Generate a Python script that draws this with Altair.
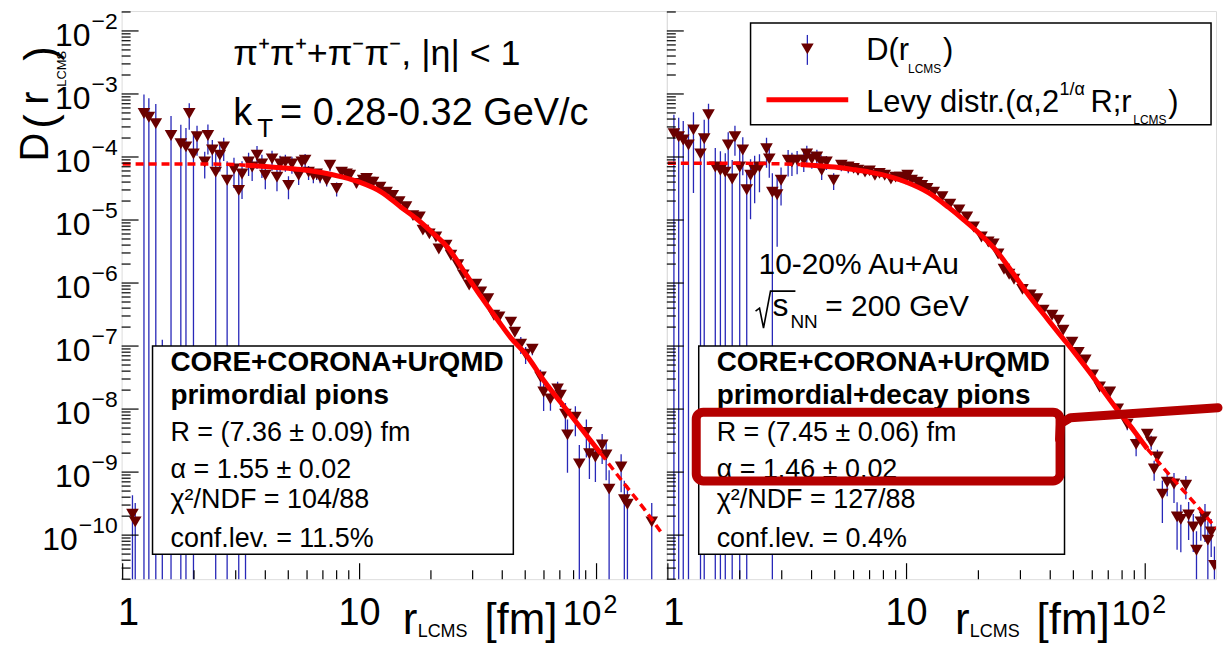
import altair as alt
import pandas as pd

FONT = "Liberation Sans"
MAROON = "#6a0000"
BLUE = "#2828b8"
RED = "#ff0000"
ANNOT = "#b40000"

# ---------------- data ----------------
left_r = [1.10, 1.13, 1.23, 1.29, 1.38, 1.47, 1.60, 1.76, 1.85, 1.91, 1.99, 2.06, 2.22, 2.29, 2.39,
          2.47, 2.57, 2.67, 2.76, 2.95, 3.09, 3.19, 3.30, 3.40, 3.52, 3.69, 3.87, 4.00, 4.27, 4.48,
          4.62, 4.86, 5.01, 5.18, 5.53, 5.70, 5.89, 6.09, 6.38, 6.59, 6.81, 7.26, 7.50, 8.00, 8.40,
          8.81, 9.09, 9.70, 10.35, 10.7, 11.0, 11.4, 12.2, 13.0, 13.8, 14.7, 15.7, 16.8, 17.9, 18.5,
          19.7, 21.0, 21.6, 23.2, 24.3, 26.0, 27.4, 29.0, 31.0, 32.5, 34.8, 36.9, 38.8, 43.5, 45.2,
          47.9, 50.2, 53.6, 58.0, 59.8, 63.9, 68.5, 70.5, 73.9, 75.4, 81.4, 84.6, 90.6, 93.3, 98.9,
          105.6, 109.8, 113.0, 127.0, 131.0, 135.0, 171.0]
left_log10_D = [-9.67, -9.79, -3.31, -3.37, -3.47, -7.20, -3.66, -3.79, -3.84, -3.31, -3.95, -3.68, -4.08, -3.66, -3.89,
                -4.24, -3.97, -3.84, -4.37, -4.19, -4.53, -4.27, -9.00, -4.08, -4.16, -3.97, -4.11, -4.29, -4.03, -4.32,
                -4.11, -4.08, -4.45, -4.11, -4.29, -4.08, -4.05, -4.24, -4.29, -4.27, -4.32, -4.37, -4.13, -4.50, -4.24,
                -4.27, -4.29, -4.42, -4.37, -4.34, -4.40, -4.40, -4.48, -4.56, -4.61, -4.71, -4.79, -4.93, -4.95, -5.16,
                -5.22, -5.27, -5.46, -5.40, -5.56, -5.71, -5.87, -6.03, -6.02, -6.14, -6.25, -6.51, -6.54, -6.62, -6.78,
                -6.97, -7.13, -7.05, -7.49, -7.73, -7.84, -7.68, -7.78, -8.08, -8.41, -8.13, -8.87, -8.37, -8.71, -8.76,
                -8.57, -8.73, -9.27, -8.92, -9.44, -9.51, -9.79]
left_rel_err = [1.0, 1.0, 1.0, 1.0, 1.05, 1.0, 1.05, 1.0, 1.0, 0.45, 1.0, 0.5, 0.45, 0.5, 0.45,
                1.0, 0.45, 0.4, 1.0, 0.5, 1.0, 0.6, 1.0, 0.4, 0.4, 0.4, 0.4, 0.4, 0.35, 0.4,
                0.35, 0.3, 0.4, 0.3, 0.3, 0.25, 0.25, 0.25, 0.25, 0.2, 0.2, 0.2, 0.2, 0.25, 0.15,
                0.15, 0.15, 0.15, 0.12, 0.12, 0.1, 0.1, 0.1, 0.08, 0.08, 0.08, 0.08, 0.08, 0.08, 0.08,
                0.08, 0.08, 0.08, 0.08, 0.08, 0.1, 0.1, 0.1, 0.1, 0.1, 0.1, 0.1, 0.12, 0.12, 0.12,
                0.3, 0.3, 0.2, 0.3, 0.5, 0.35, 0.3, 0.35, 0.5, 0.75, 0.5, 1.0, 0.6, 0.6, 0.6,
                0.5, 0.6, 1.0, 0.6, 1.0, 1.0, 1.0]

right_r = [1.06, 1.11, 1.16, 1.22, 1.28, 1.37, 1.42, 1.48, 1.58, 1.66, 1.74, 1.79, 1.86, 1.91, 2.00,
           2.06, 2.14, 2.22, 2.31, 2.42, 2.59, 2.66, 2.74, 2.87, 2.98, 3.19, 3.31, 3.48, 3.71, 3.82,
           4.01, 4.21, 4.38, 4.41, 4.62, 4.95, 5.33, 5.70, 6.00, 6.26, 6.70, 7.00, 7.37, 7.70, 8.10,
           8.60, 9.00, 9.40, 9.90, 10.1, 10.5, 11.1, 11.6, 12.2, 13.0, 14.1, 15.2, 16.6, 17.9, 19.1,
           20.6, 22.0, 23.1, 24.2, 25.6, 26.9, 28.2, 30.6, 33.0, 35.2, 37.4, 40.7, 43.2, 45.3, 49.4,
           52.5, 56.1, 60.2, 64.4, 71.1, 76.7, 84.1, 91.6, 101.9, 105.9, 109.0, 112.5, 118.0, 123.6, 132.0,
           136.0, 141.0, 148.0, 152.0, 159.0, 164.0, 171.0, 178.0, 183.0, 189.0, 195.0]
right_log10_D = [-3.63, -3.68, -3.73, -3.81, -3.57, -3.95, -3.71, -3.33, -4.16, -4.21, -4.24, -3.81, -4.35, -3.68, -4.16,
                 -3.89, -4.52, -4.29, -4.21, -4.16, -3.87, -4.03, -4.56, -4.60, -4.37, -4.05, -4.08, -4.05, -4.05, -3.95,
                 -4.03, -4.00, -4.08, -4.21, -4.08, -4.37, -4.13, -4.16, -4.18, -4.21, -4.24, -4.22, -4.29, -4.26, -4.29,
                 -4.35, -4.32, -4.32, -4.35, -4.29, -4.37, -4.40, -4.45, -4.50, -4.56, -4.63, -4.75, -4.84, -4.95, -5.11,
                 -5.27, -5.35, -5.38, -5.54, -5.78, -5.86, -5.94, -6.10, -6.19, -6.25, -6.43, -6.51, -6.59, -6.75, -6.94,
                 -7.10, -7.22, -7.46, -7.65, -7.73, -8.00, -8.24, -8.56, -8.40, -8.52, -8.95, -8.76, -9.35, -9.16, -9.19,
                 -9.71, -9.75, -9.21, -9.68, -9.87, -10.24, -9.79, -9.71, -10.08, -9.95, -10.48]
right_rel_err = [1.0, 1.0, 1.0, 1.0, 0.9, 1.0, 1.0, 0.5, 1.0, 1.0, 1.0, 0.6, 1.0, 0.5, 1.0,
                 0.6, 1.0, 0.8, 0.7, 0.6, 0.5, 0.5, 1.0, 0.85, 0.6, 0.45, 0.4, 0.4, 0.35, 0.35,
                 0.3, 0.3, 0.3, 0.3, 0.25, 0.3, 0.2, 0.2, 0.15, 0.15, 0.12, 0.12, 0.1, 0.1, 0.1,
                 0.08, 0.08, 0.08, 0.08, 0.06, 0.06, 0.06, 0.06, 0.06, 0.06, 0.06, 0.06, 0.06, 0.06, 0.06,
                 0.06, 0.06, 0.06, 0.06, 0.06, 0.06, 0.06, 0.06, 0.06, 0.06, 0.08, 0.08, 0.08, 0.1, 0.1,
                 0.1, 0.1, 0.1, 0.15, 0.15, 0.2, 0.2, 0.35, 0.2, 0.25, 0.35, 0.3, 0.65, 0.4, 0.5,
                 0.7, 0.7, 0.4, 0.6, 0.6, 1.0, 0.5, 0.6, 1.0, 0.6, 1.0]

fit_r_left = [1.0, 1.5, 2.0, 3.0, 3.3, 4.0, 5.0, 6.0, 7.0, 8.5, 10, 12.4, 15, 17.4, 20,
              23.7, 28, 32.6, 38, 43.5, 50, 60, 75, 90, 104, 130, 160, 191]
fit_log10_left = [-4.11, -4.11, -4.11, -4.12, -4.13, -4.15, -4.18, -4.21, -4.25, -4.32, -4.40, -4.56, -4.80, -4.98, -5.18,
                  -5.45, -5.85, -6.22, -6.57, -6.87, -7.12, -7.55, -8.02, -8.40, -8.70, -9.17, -9.60, -10.0]
fit_r_right = [1.0, 1.5, 2.0, 3.0, 3.6, 4.0, 5.0, 6.0, 7.0, 8.5, 10, 12.4, 15, 17.4, 20,
               23.7, 28, 32.6, 38, 43.5, 50, 60, 75, 90, 102, 130, 160, 198]
fit_log10_right = [-4.10, -4.10, -4.10, -4.11, -4.12, -4.13, -4.16, -4.20, -4.24, -4.31, -4.40, -4.57, -4.80, -5.00, -5.20,
                   -5.48, -5.85, -6.20, -6.52, -6.80, -7.08, -7.47, -7.97, -8.35, -8.63, -9.10, -9.48, -9.89]
fit_solid_left = (3.3, 104)
fit_solid_right = (3.6, 102)

y_major = [1e-2, 1e-3, 1e-4, 1e-5, 1e-6, 1e-7, 1e-8, 1e-9, 1e-10]
y_exp_labels = ["\u22122", "\u22123", "\u22124", "\u22125", "\u22126", "\u22127", "\u22128", "\u22129", "\u221210"]
x_major = [1, 10, 100]

left_box_lines = ["CORE+CORONA+UrQMD", "primordial pions", "R = (7.36 \u00b1 0.09) fm",
                  "\u03b1 = 1.55 \u00b1 0.02", "\u03c7\u00b2/NDF = 104/88", "conf.lev. = 11.5%"]
right_box_lines = ["CORE+CORONA+UrQMD", "primordial+decay pions", "R = (7.45 \u00b1 0.06) fm",
                   "\u03b1 = 1.46 \u00b1 0.02", "\u03c7\u00b2/NDF = 127/88", "conf.lev. = 0.4%"]

# ---------------- layout ----------------
Y_DOMAIN = [2.0e-11, 2.07e-2]
X_DOMAIN = [0.99, 198.0]
H = 570
W_LEFT = 547
W_RIGHT = 551
BOTTOM = 1e-14


def xs():
    return alt.Scale(type="log", domain=X_DOMAIN, nice=False)


def ys():
    return alt.Scale(type="log", domain=Y_DOMAIN, nice=False)


def X(f):
    return alt.X(f, scale=xs(), axis=None)


def Y(f):
    return alt.Y(f, scale=ys(), axis=None)


def PX(f="px:Q"):
    return alt.X(f, scale=None, axis=None)


def PY(f="py:Q"):
    return alt.Y(f, scale=None, axis=None)


ONE = pd.DataFrame({"a": [0]})


def points_df(r, lg, rel):
    d = pd.DataFrame({"r": r, "lg": lg, "rel": rel})
    d["D"] = 10.0 ** d["lg"]
    d["hi"] = d["D"] * (1 + d["rel"])
    d["lo"] = (d["D"] * (1 - d["rel"])).where(d["rel"] < 1, BOTTOM)
    return d


def fit_df(r, lg, ab):
    a, b = ab
    d = pd.DataFrame({"r": r, "lg": lg})
    d["D"] = 10.0 ** d["lg"]
    parts = []
    for seg, mask in [("lo", d.r <= a), ("mid", (d.r >= a) & (d.r <= b)), ("hi", d.r >= b)]:
        p = d[mask].copy()
        p["seg"] = seg
        parts.append(p)
    return pd.concat(parts, ignore_index=True)


def text_layer(rows, size, weight="normal", angle=0, align="left", color="black"):
    df = pd.DataFrame(rows, columns=["px", "py", "txt"])
    return alt.Chart(df).mark_text(align=align, baseline="alphabetic", font=FONT, fontSize=size,
                                   fontWeight=weight, angle=angle, color=color).encode(
        x=PX(), y=PY(), text="txt:N")


def box_layer(x1, x2, y1, y2):
    return alt.Chart(ONE).mark_rect(fill="white", stroke="black", strokeWidth=1.5).encode(
        x=alt.value(x1), x2=alt.value(x2), y=alt.value(y1), y2=alt.value(y2))


def data_layers(pts, fit):
    base = alt.Chart(pts)
    bars = base.mark_rule(color=BLUE, strokeWidth=1.3, clip=True).encode(x=X("r:Q"), y=Y("lo:Q"), y2="hi:Q")
    marks = base.mark_point(shape="triangle-down", filled=True, size=160, color=MAROON, opacity=1,
                            clip=True).encode(x=X("r:Q"), y=Y("D:Q"))
    dashed = alt.Chart(fit[fit.seg != "mid"]).mark_line(color=RED, strokeWidth=3.5, strokeDash=[8, 5],
                                                        interpolate="monotone", clip=True).encode(
        x=X("r:Q"), y=Y("D:Q"), detail="seg:N")
    solid = alt.Chart(fit[fit.seg == "mid"]).mark_line(color=RED, strokeWidth=5, interpolate="monotone",
                                                       clip=True).encode(x=X("r:Q"), y=Y("D:Q"))
    return [bars, marks, dashed, solid]


def tick_layers():
    ymin = []
    for n in range(-11, -1):
        for k in range(2, 10):
            v = k * 10.0 ** n
            if Y_DOMAIN[0] <= v <= Y_DOMAIN[1]:
                ymin.append(v)
    xmin = [k * 10.0 ** n for n in range(0, 3) for k in range(2, 10) if k * 10.0 ** n <= X_DOMAIN[1]]
    lay = []
    lay.append(alt.Chart(pd.DataFrame({"v": y_major})).mark_rule(color="black", strokeWidth=1.2).encode(
        y=Y("v:Q"), x=alt.value(0), x2=alt.value(17)))
    lay.append(alt.Chart(pd.DataFrame({"v": ymin})).mark_rule(color="black", strokeWidth=1.2).encode(
        y=Y("v:Q"), x=alt.value(0), x2=alt.value(9)))
    lay.append(alt.Chart(pd.DataFrame({"v": x_major})).mark_rule(color="black", strokeWidth=1.2).encode(
        x=X("v:Q"), y=alt.value(H), y2=alt.value(H - 16)))
    lay.append(alt.Chart(pd.DataFrame({"v": xmin})).mark_rule(color="black", strokeWidth=1.2).encode(
        x=X("v:Q"), y=alt.value(H), y2=alt.value(H - 9)))
    return lay


def xlabel_layers(title_x):
    lay = []
    lay.append(alt.Chart(pd.DataFrame({"v": [1]})).mark_text(
        align="center", baseline="alphabetic", font=FONT, fontSize=38, dx=6).encode(
        x=X("v:Q"), y=alt.value(H + 46), text=alt.value("1")))
    lay.append(alt.Chart(pd.DataFrame({"v": [10]})).mark_text(
        align="center", baseline="alphabetic", font=FONT, fontSize=38).encode(
        x=X("v:Q"), y=alt.value(H + 46), text=alt.value("10")))
    lay.append(alt.Chart(pd.DataFrame({"v": [100]})).mark_text(
        align="right", baseline="alphabetic", font=FONT, fontSize=35, dx=5).encode(
        x=X("v:Q"), y=alt.value(H + 46), text=alt.value("10")))
    lay.append(alt.Chart(pd.DataFrame({"v": [100]})).mark_text(
        align="left", baseline="alphabetic", font=FONT, fontSize=25, dx=7).encode(
        x=X("v:Q"), y=alt.value(H + 34), text=alt.value("2")))
    tx = title_x
    lay.append(text_layer([(tx, H + 55, "r"), (tx + 82, H + 55, "[fm]")], 44))
    lay.append(text_layer([(tx + 15, H + 58, "LCMS")], 18))
    return lay


# ---------------- left panel ----------------
ylab = pd.DataFrame({"v": y_major, "exp": y_exp_labels})
ylab["bx"] = -4 - (0.584 * 23 + 0.556 * 23 * (ylab["exp"].str.len() - 1)) - 1

left_layers = [alt.Chart(ONE).mark_rect(opacity=0).encode(
    x=alt.value(-113), x2=alt.value(-112), y=alt.value(-1), y2=alt.value(0))]
left_layers += data_layers(points_df(left_r, left_log10_D, left_rel_err),
                           fit_df(fit_r_left, fit_log10_left, fit_solid_left))
left_layers += tick_layers()
left_layers += [
    alt.Chart(ylab).mark_text(align="right", baseline="alphabetic", font=FONT, fontSize=23, dy=-2).encode(
        x=alt.value(-4), y=Y("v:Q"), text="exp:N"),
    alt.Chart(ylab).mark_text(align="right", baseline="alphabetic", font=FONT, fontSize=32, dy=15).encode(
        x=PX("bx:Q"), y=Y("v:Q"), text=alt.value("10")),
]
left_layers += xlabel_layers(282)
# y-axis title, rotated
left_layers += [
    text_layer([(-74, 151, "D"), (-74, 94, "r")], 40, angle=270),
    text_layer([(-67, 118, "("), (-67, 50, ")")], 44, angle=270),
    text_layer([(-56, 76, "LCMS")], 13, angle=270),
]
# header texts
left_layers += [
    text_layer([(112, 54, "\u03c0\u207a\u03c0\u207a+\u03c0\u207b\u03c0\u207b, |\u03b7| < 1")], 36),
    text_layer([(112, 114, "k"), (159, 114, "= 0.28-0.32 GeV/c")], 38),
    text_layer([(136, 126, "T")], 26),
]
left_layers += [box_layer(31, 393, 336, 545)]
BL = [361, 394, 431, 468, 499, 538]
left_layers += [
    text_layer([(49, BL[0], left_box_lines[0]), (49, BL[1], left_box_lines[1])], 28, weight="bold"),
    text_layer([(49, BL[i], left_box_lines[i]) for i in range(2, 6)], 27),
]
left = alt.layer(*left_layers).properties(width=W_LEFT, height=H)

# ---------------- right panel ----------------
right_layers = data_layers(points_df(right_r, right_log10_D, right_rel_err),
                           fit_df(fit_r_right, fit_log10_right, fit_solid_right))
right_layers += tick_layers()
right_layers += xlabel_layers(289)
# legend
right_layers += [
    box_layer(84, 546, 12, 114),
    alt.Chart(ONE).mark_rule(color=BLUE, strokeWidth=1.3).encode(
        x=alt.value(141), y=alt.value(24), y2=alt.value(54)),
    alt.Chart(ONE).mark_point(shape="triangle-down", filled=True, size=160, color=MAROON, opacity=1).encode(
        x=alt.value(141), y=alt.value(38)),
    alt.Chart(ONE).mark_rule(color=RED, strokeWidth=5).encode(
        x=alt.value(100), x2=alt.value(182), y=alt.value(89)),
    text_layer([(200, 49, "D(r"), (277, 49, ")"), (200, 101, "Levy distr.(\u03b1,2"),
                (425, 101, "R;r"), (503, 101, ")")], 31),
    text_layer([(242, 62, "LCMS"), (468, 113, "LCMS")], 12),
    text_layer([(394, 84, "1/\u03b1")], 18),
]
# system labels (square-root sign drawn as a stroke)
sqrt_path = pd.DataFrame({"i": [0, 1, 2, 3, 4], "px": [89, 93, 97, 104, 129], "py": [301, 298, 318, 281, 281]})
right_layers += [
    text_layer([(92, 264, "10-20% Au+Au")], 30),
    alt.Chart(sqrt_path).mark_line(color="black", strokeWidth=1.6).encode(x=PX(), y=PY(), order="i:Q"),
    text_layer([(106, 306, "s")], 32),
    text_layer([(124, 318, "NN")], 19),
    text_layer([(159, 306, "= 200 GeV")], 30),
]
right_layers += [box_layer(32, 399, 336, 545)]
right_layers += [
    text_layer([(50, BL[0], right_box_lines[0]), (50, BL[1], right_box_lines[1])], 28, weight="bold"),
    text_layer([(50, BL[i], right_box_lines[i]) for i in range(2, 6)], 27),
]
# red highlight annotation
conn = pd.DataFrame({"i": [0, 1, 2, 3], "px": [394, 395, 405, 553], "py": [430, 414, 408, 398]})
right_layers += [
    alt.Chart(ONE).mark_rect(fillOpacity=0, stroke=ANNOT, strokeWidth=9, cornerRadius=7).encode(
        x=alt.value(29.5), x2=alt.value(394.5), y=alt.value(402.5), y2=alt.value(471.5)),
    alt.Chart(conn).mark_line(color=ANNOT, strokeWidth=9, strokeCap="round", strokeJoin="round").encode(
        x=PX(), y=PY(), order="i:Q"),
]
right = alt.layer(*right_layers).properties(width=W_RIGHT, height=H)

chart = alt.hconcat(left, right, spacing=0, bounds="flush", padding=0).configure_view(
    stroke="black", strokeWidth=1.5).configure(background="white")

chart.save("out.html", embed_options={"renderer": "svg", "actions": False})
